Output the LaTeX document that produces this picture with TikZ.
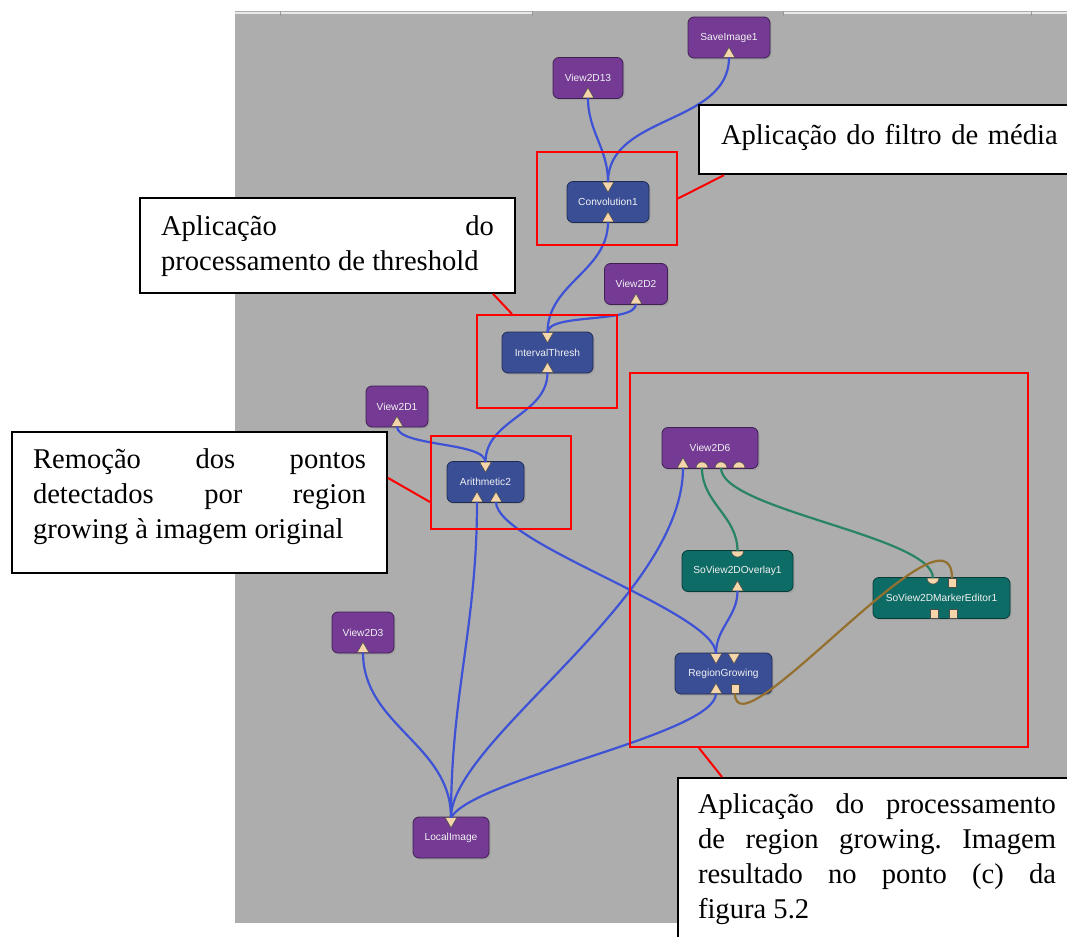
\documentclass[tikz,border=0pt]{standalone}
\usepackage{fontspec}
\setmainfont{Liberation Serif}
\setsansfont{Liberation Sans}
\usetikzlibrary{shapes.geometric,shadows}
\definecolor{canvasgray}{RGB}{173,173,173}
\definecolor{viewpurple}{RGB}{116,58,148}
\definecolor{procblue}{RGB}{58,78,150}
\definecolor{invteal}{RGB}{14,108,102}
\definecolor{wireblue}{RGB}{62,82,214}
\definecolor{wiregreen}{RGB}{40,132,100}
\definecolor{wirebrown}{RGB}{148,112,46}
\definecolor{portfill}{RGB}{245,214,170}
\tikzset{
  module/.style={rectangle, rounded corners=3pt, minimum height=20.5pt, inner sep=1pt,
    text=white!90!gray, font=\sffamily\fontsize{5.1}{6}\selectfont,
    drop shadow={shadow xshift=0.8pt, shadow yshift=-0.8pt, opacity=0.3}},
  viewmod/.style={module, fill=viewpurple, draw=viewpurple!55!black},
  procmod/.style={module, fill=procblue, draw=procblue!55!black},
  invmod/.style={module, fill=invteal, draw=invteal!55!black},
  port/.style={fill=portfill, draw=black!70, line width=0.3pt, inner sep=0pt, outer sep=0pt},
  outtri/.style={port, regular polygon, regular polygon sides=3, shape border rotate=180, minimum size=6.8pt, anchor=north},
  intri/.style={port, regular polygon, regular polygon sides=3, minimum size=6.8pt, anchor=south},
  outdome/.style={port, semicircle, shape border rotate=180, minimum width=6pt, minimum height=3pt, anchor=chord center},
  indome/.style={port, semicircle, minimum width=6pt, minimum height=3pt, anchor=chord center},
  outsq/.style={port, rectangle, minimum width=4pt, minimum height=4.4pt, anchor=north},
  insq/.style={port, rectangle, minimum width=4pt, minimum height=4.4pt, anchor=south},
  wire/.style={draw=wireblue, line width=1.1pt, out=90, in=-90},
  greenwire/.style={wire, draw=wiregreen},
  brownwire/.style={wire, draw=wirebrown},
  frame/.style={draw=red, line width=1pt, minimum width=70pt, minimum height=46.5pt, inner sep=0pt},
  note/.style={draw=black, line width=1pt, fill=white, anchor=north west,
    font=\fontsize{14.3}{17.5}\selectfont},
  leader/.style={draw=red, line width=1pt},
  topline/.style={draw=white!82!gray, line width=1pt}
}
\begin{document}
\begin{tikzpicture}[x=0.5pt, y=0.5pt]
\useasboundingbox (0,0) rectangle (1067,-937);
\fill[canvasgray] (235,-11) rectangle (1067,-923);
\draw[topline] (235,-13) -- (532,-13) (783,-13) -- (1067,-13);
\foreach \tx in {280,532,783,1031}
  \draw[black!40, line width=0.5pt] (\tx,-11) -- (\tx,-16);

\node[viewmod, minimum width=41pt] (save) at (729,-37.5) {SaveImage1};
\node[viewmod, minimum width=35pt] (view13) at (588,-78) {View2D13};
\node[procmod, minimum width=41pt] (conv) at (608,-202) {Convolution1};
\node[viewmod, minimum width=31.5pt] (view2) at (636,-284) {View2D2};
\node[procmod, minimum width=45.5pt] (thresh) at (547.5,-352.5) {IntervalThresh};
\node[viewmod, minimum width=31pt] (view1) at (397,-406.5) {View2D1};
\node[procmod, minimum width=38.5pt] (arith) at (485.5,-482) {Arithmetic2};
\node[viewmod, minimum width=48pt] (view6) at (710,-448) {View2D6};
\node[invmod, minimum width=55.5pt] (overlay) at (737.5,-571) {SoView2DOverlay1};
\node[invmod, minimum width=68.5pt] (marker) at (941.5,-598) {SoView2DMarkerEditor1};
\node[procmod, minimum width=48.5pt] (region) at (723.5,-673.5) {RegionGrowing};
\node[viewmod, minimum width=31pt] (view3) at (363,-632.5) {View2D3};
\node[viewmod, minimum width=38pt] (local) at (451,-837.5) {LocalImage};

\node[intri] (save-in) at ([yshift=0.5pt]save.south) {};
\node[intri] (view13-in) at ([yshift=0.5pt]view13.south) {};
\node[outtri] (conv-out) at ([yshift=-0.5pt]conv.north) {};
\node[intri] (conv-in) at ([yshift=0.5pt]conv.south) {};
\node[intri] (view2-in) at ([yshift=0.5pt]view2.south) {};
\node[outtri] (thresh-out) at ([yshift=-0.5pt]thresh.north) {};
\node[intri] (thresh-in) at ([yshift=0.5pt]thresh.south) {};
\node[intri] (view1-in) at ([yshift=0.5pt]view1.south) {};
\node[outtri] (arith-out) at ([yshift=-0.5pt]arith.north) {};
\node[intri] (arith-ina) at ([xshift=-4.25pt, yshift=0.5pt]arith.south) {};
\node[intri] (arith-inb) at ([xshift=5.25pt, yshift=0.5pt]arith.south) {};
\node[intri] (view6-in) at ([xshift=-13.5pt, yshift=0.5pt]view6.south) {};
\node[indome] (view6-inva) at ([xshift=-4pt, yshift=0.5pt]view6.south) {};
\node[indome] (view6-invb) at ([xshift=5.5pt, yshift=0.5pt]view6.south) {};
\node[indome] (view6-invc) at ([xshift=14.5pt, yshift=0.5pt]view6.south) {};
\node[outdome] (overlay-out) at ([yshift=-0.5pt]overlay.north) {};
\node[intri] (overlay-in) at ([yshift=0.5pt]overlay.south) {};
\node[outdome] (marker-out) at ([xshift=-4.25pt, yshift=-0.5pt]marker.north) {};
\node[outsq] (marker-outsq) at ([xshift=5.25pt, yshift=-0.5pt]marker.north) {};
\node[insq] (marker-ina) at ([xshift=-3.75pt, yshift=0.5pt]marker.south) {};
\node[insq] (marker-inb) at ([xshift=5.75pt, yshift=0.5pt]marker.south) {};
\node[outtri] (region-outa) at ([xshift=-3.75pt, yshift=-0.5pt]region.north) {};
\node[outtri] (region-outb) at ([xshift=5.25pt, yshift=-0.5pt]region.north) {};
\node[intri] (region-in) at ([xshift=-3.75pt, yshift=0.5pt]region.south) {};
\node[insq] (region-insq) at ([xshift=5.75pt, yshift=0.5pt]region.south) {};
\node[intri] (view3-in) at ([yshift=0.5pt]view3.south) {};
\node[outtri] (local-out) at ([yshift=-0.5pt]local.north) {};

\draw[wire] (conv-out.north) to (view13-in.south);
\draw[wire] (conv-out.north) to (save-in.south);
\draw[wire] (thresh-out.north) to (conv-in.south);
\draw[wire, looseness=0.55] (thresh-out.north) to (view2-in.south);
\draw[wire] (arith-out.north) to (thresh-in.south);
\draw[wire, looseness=0.55] (arith-out.north) to (view1-in.south);
\draw[wire] (local-out.north) to (arith-ina.south);
\draw[wire, looseness=0.4] (region-outa.north) to (arith-inb.south);
\draw[wire] (region-outa.north) to (overlay-in.south);
\draw[wire, out looseness=0.47, in looseness=0.8] (local-out.north) to (view6-in.south);
\draw[wire] (local-out.north) to (view3-in.south);
\draw[wire, out=60, out looseness=0.4, in looseness=0.36] (local-out.north) to (region-in.south);
\draw[greenwire] (overlay-out.chord center) to (view6-inva.chord center);
\draw[greenwire, looseness=0.45] (marker-out.chord center) to (view6-invb.chord center);
\draw[brownwire, out looseness=0.9, in looseness=0.68] (marker-outsq.north) to (region-insq.south);

\node[frame] (frame-media) at (607,-198.5) {};
\node[frame] (frame-thresh) at (547,-361.5) {};
\node[frame] (frame-arith) at (501,-482.5) {};
\node[frame, minimum width=199pt, minimum height=187pt] (frame-region) at (829,-560) {};

\node[note, text width=190pt, inner xsep=11pt, inner ysep=9.5pt, text depth=5.5pt, align=left]
  (note-media) at (698,-104) {Aplicação do filtro de média};
\node[note, text width=166.5pt, inner xsep=10.5pt, inner ysep=9pt, text depth=19.5pt, align=justify]
  (note-thresh) at (139,-197) {Aplicação\hfill do\\processamento de threshold};
\node[note, text width=166.5pt, inner xsep=10.5pt, inner ysep=8.5pt, text depth=43.5pt, align=justify]
  (note-arith) at (11,-431) {Remoção\hfill dos\hfill pontos\\detectados\hfill por\hfill region\\growing à imagem original};
\node[note, text width=179pt, inner xsep=10pt, inner ysep=8pt, text depth=80pt, align=justify]
  (note-region) at (677,-777) {Aplicação\hfill do\hfill processamento\\de\hfill region\hfill growing.\hfill Imagem\\resultado\hfill no\hfill ponto\hfill (c)\hfill da\\figura 5.2};

\draw[leader] (frame-media.east) -- ([xshift=13pt]note-media.south west);
\draw[leader] ([xshift=18pt]frame-thresh.north west) -- ([xshift=-11.5pt]note-thresh.south east);
\draw[leader] ([yshift=-9.75pt]frame-arith.west) -- ([yshift=12.25pt]note-arith.east);
\draw[leader] ([xshift=35pt]frame-region.south west) -- ([xshift=22.5pt]note-region.north west);
\end{tikzpicture}
\end{document}
